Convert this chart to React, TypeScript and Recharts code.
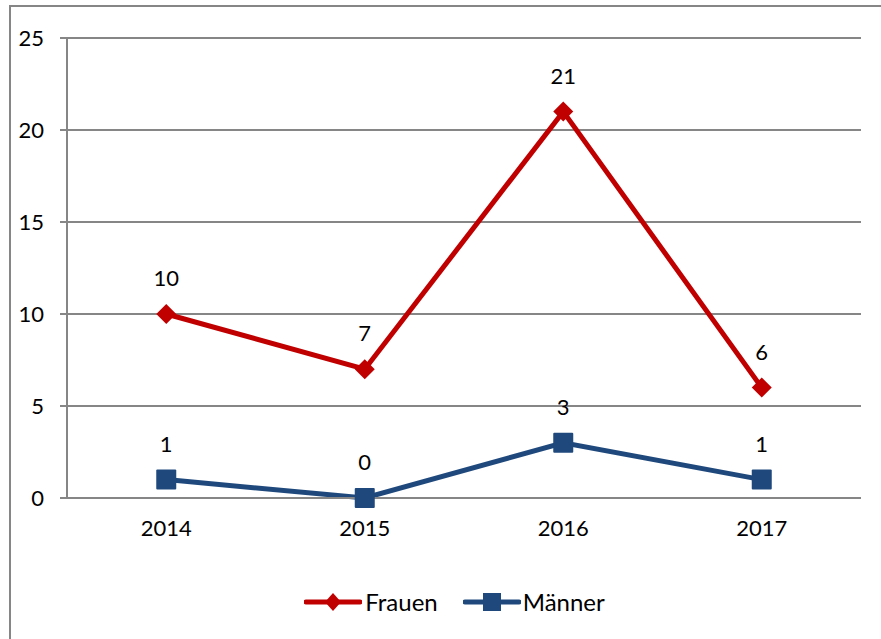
import React from 'react';
import { LineChart, Line, XAxis, YAxis, CartesianGrid, LabelList, Legend } from 'recharts';

const years = ['2014', '2015', '2016', '2017'];
const frauen = [10, 7, 21, 6];
const maenner = [1, 0, 3, 1];
const yTicks = [0, 5, 10, 15, 20, 25];
const boundaryTicks = [0, 1, 2, 3, 4];

const data = years.map((year, i) => ({ year, frauen: frauen[i], maenner: maenner[i] }));

const RED = '#C00000';
const BLUE = '#1F497D';
const GRID = '#868686';
const FONT = 'Lato, "Open Sans", sans-serif';

const Diamond = (props: any) => {
  const { cx, cy } = props;
  if (cx == null || cy == null) return null;
  const r = 10;
  return <polygon points={`${cx},${cy - r} ${cx + r},${cy} ${cx},${cy + r} ${cx - r},${cy}`} fill={RED} />;
};

const Square = (props: any) => {
  const { cx, cy } = props;
  if (cx == null || cy == null) return null;
  return <rect x={cx - 10} y={cy - 10} width={20} height={20} rx={1} fill={BLUE} />;
};

const LegendContent = () => (
  <div style={{ display: 'flex', justifyContent: 'center', alignItems: 'center', fontFamily: FONT, fontSize: 24, color: '#000' }}>
    <svg width={58} height={24}>
      <line x1={2} y1={12} x2={56} y2={12} stroke={RED} strokeWidth={5} strokeLinecap="round" />
      <polygon points="29,3 37,12 29,21 21,12" fill={RED} />
    </svg>
    <span style={{ marginLeft: 3, marginRight: 25 }}>Frauen</span>
    <svg width={58} height={24}>
      <line x1={2} y1={12} x2={56} y2={12} stroke={BLUE} strokeWidth={5} strokeLinecap="round" />
      <rect x={20} y={3} width={18} height={18} fill={BLUE} />
    </svg>
    <span style={{ marginLeft: 2 }}>Männer</span>
  </div>
);

export default function App() {
  return (
    <div style={{ position: 'absolute', left: 0, top: 0, width: 881, height: 639, overflow: 'hidden', background: '#fff' }}>
      <div style={{ position: 'absolute', left: 9, top: 5, width: 900, height: 700, border: `2px solid ${GRID}` }} />
      <LineChart width={881} height={639} data={data} margin={{ top: 38, right: 20, left: 0, bottom: 100 }}>
        <CartesianGrid vertical={false} stroke={GRID} strokeWidth={2} />
        <XAxis
          xAxisId="bounds"
          type="number"
          domain={[0, 4]}
          ticks={boundaryTicks}
          allowDataOverflow
          height={1}
          tick={false}
          axisLine={{ stroke: GRID, strokeWidth: 2 }}
          tickLine={{ stroke: GRID, strokeWidth: 2 }}
          tickSize={8}
        />
        <XAxis
          xAxisId="cat"
          dataKey="year"
          scale="band"
          height={40}
          axisLine={false}
          tickLine={false}
          tickSize={8}
          tickMargin={13}
          tick={{ fill: '#000', fontSize: 22, fontFamily: FONT }}
        />
        <YAxis
          width={67}
          domain={[0, 25]}
          ticks={yTicks}
          interval={0}
          axisLine={{ stroke: GRID, strokeWidth: 2 }}
          tickLine={{ stroke: GRID, strokeWidth: 2 }}
          tickSize={7}
          tickMargin={16}
          tick={{ fill: '#000', fontSize: 22, fontFamily: FONT }}
        />
        <Legend verticalAlign="middle" wrapperStyle={{ top: 587, left: 14, width: 881 }} content={<LegendContent />} />
        <Line xAxisId="cat" dataKey="frauen" name="Frauen" stroke={RED} strokeWidth={5} dot={<Diamond />} activeDot={false} isAnimationActive={false}>
          <LabelList dataKey="frauen" position="top" offset={28} style={{ fill: '#000', fontSize: 22, fontFamily: FONT }} />
        </Line>
        <Line xAxisId="cat" dataKey="maenner" name="Männer" stroke={BLUE} strokeWidth={5} dot={<Square />} activeDot={false} isAnimationActive={false}>
          <LabelList dataKey="maenner" position="top" offset={28} style={{ fill: '#000', fontSize: 22, fontFamily: FONT }} />
        </Line>
      </LineChart>
    </div>
  );
}
